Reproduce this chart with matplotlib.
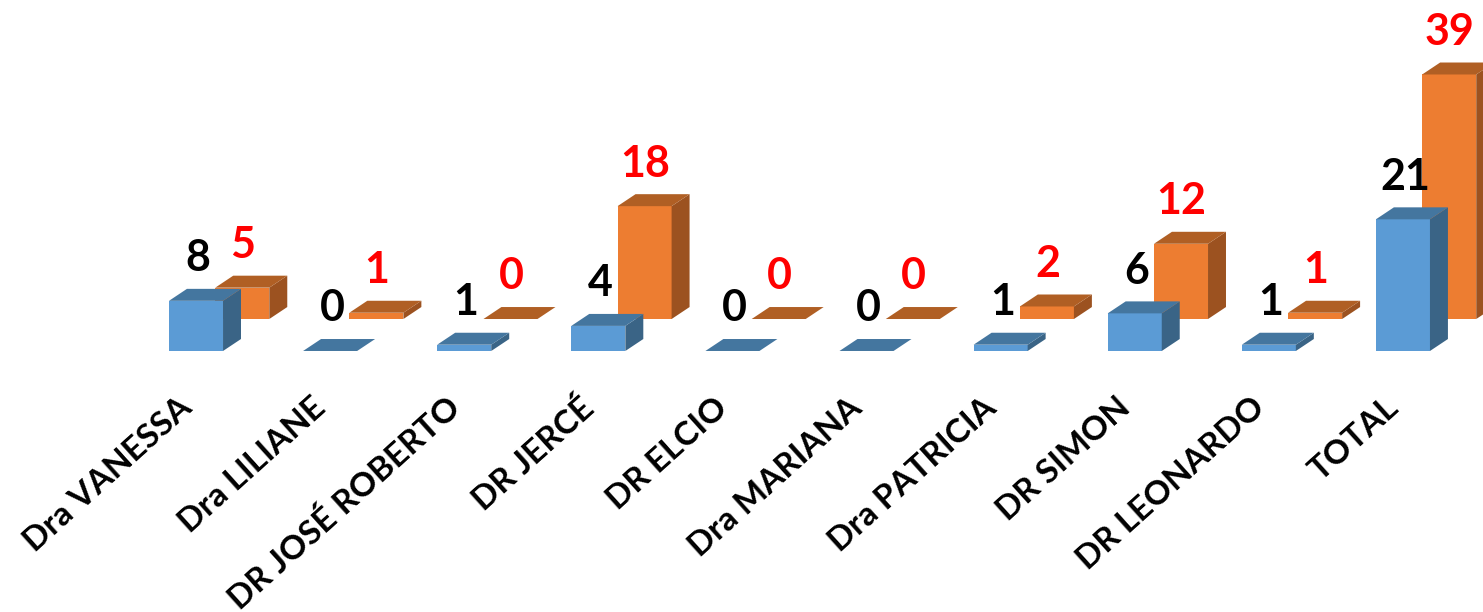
import matplotlib
matplotlib.use("Agg")
import matplotlib.pyplot as plt
from matplotlib.patches import Polygon

names = ["Dra VANESSA", "Dra LILIANE", "DR JOSÉ ROBERTO", "DR JERCÉ", "DR ELCIO",
         "Dra MARIANA", "Dra PATRICIA", "DR SIMON", "DR LEONARDO", "TOTAL"]
blue_values = [8, 0, 1, 4, 0, 0, 1, 6, 1, 21]
orange_values = [5, 1, 0, 18, 0, 0, 2, 12, 1, 39]

plt.rcParams['font.family'] = ['Lato', 'DejaVu Sans']

# one x unit is one group (134 px), one y unit is one count (6.27 px)
bar_w = 0.403
depth_x = 0.134
depth_y = 1.91
orange_dx = 0.345
orange_base = 5.1
label_gap = 6.8


def bar3d(ax, x, base, value, front, top, side, z):
    left = x - bar_w / 2
    right = x + bar_w / 2
    y = base + value
    if value > 0:
        ax.bar(x, value, bar_w, bottom=base, color=front, linewidth=0, zorder=z)
        ax.add_patch(Polygon([(right, base), (right + depth_x, base + depth_y),
                              (right + depth_x, y + depth_y), (right, y)],
                             facecolor=side, linewidth=0, zorder=z))
    ax.add_patch(Polygon([(left, y), (right, y), (right + depth_x, y + depth_y),
                          (left + depth_x, y + depth_y)],
                         facecolor=top, linewidth=0, zorder=z))


fig = plt.figure(figsize=(14.83, 6.12), dpi=100)
ax = fig.add_axes([0, 0, 1, 1])
ax.set_xlim(-1.4616, 9.597)
ax.set_ylim(-41.63, 55.98)
ax.axis("off")

for i in range(len(names)):
    bar3d(ax, i + orange_dx, orange_base, orange_values[i], "#ed7d31", "#b05f24", "#9c5220", 2)
    bar3d(ax, i, 0, blue_values[i], "#5b9bd5", "#44769f", "#3a6486", 3)

    ax.text(i + 0.015, blue_values[i] + label_gap, str(blue_values[i]), color="black",
            fontsize=31, fontweight="bold", ha="center", va="center", zorder=5)
    ax.text(i + orange_dx + 0.005, orange_base + orange_values[i] + label_gap, str(orange_values[i]),
            color="red", fontsize=31, fontweight="bold", ha="center", va="center", zorder=5)

    ax.text(i - 0.065, -8.3, names[i], color="black", fontsize=24, fontweight="bold",
            rotation=42, rotation_mode="anchor", ha="right", va="center")

fig.savefig("out.png", dpi=100)
